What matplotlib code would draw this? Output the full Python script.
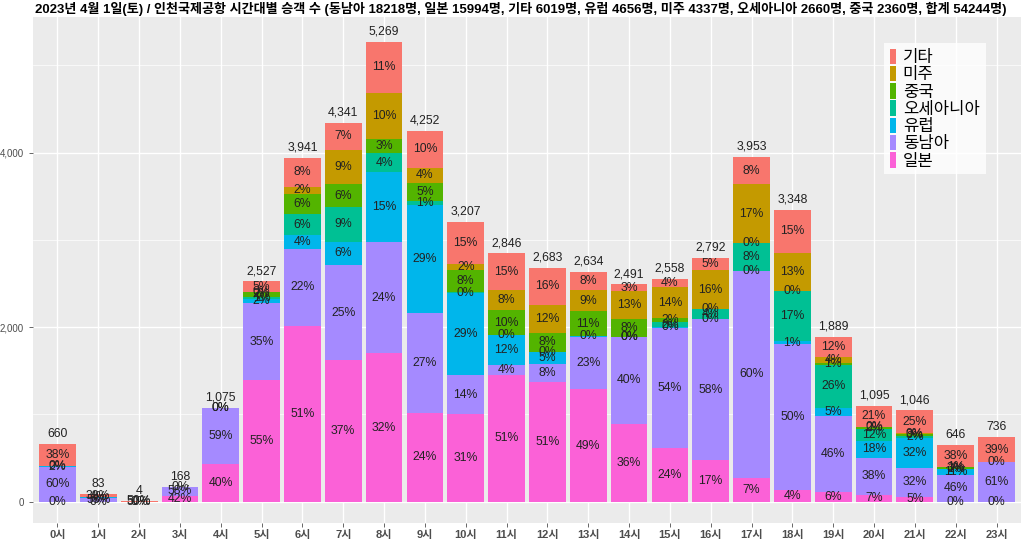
import numpy as np
import matplotlib
matplotlib.use("Agg")
import matplotlib.pyplot as plt
from matplotlib.patches import Patch
from matplotlib.ticker import MultipleLocator, FuncFormatter

plt.rcParams['font.family'] = ['Liberation Sans', 'Noto Sans CJK KR', 'DejaVu Sans']

hours = [f"{h}시" for h in range(24)]
N = None
# series (stack order bottom -> top); None = row absent
japan   = [0, 0, 2, 71, 433, 1390, 2017, 1620, 1700, 1020, 1000, 1451, 1368, 1287, 894, 620, 475, 277, 134, 113, 80, 52, 2, 2]
seasia  = [396, 48, 0, 97, 637, 884, 883, 1090, 1280, 1148, 455, 114, 215, 606, 996, 1375, 1619, 2362, 1674, 869, 420, 337, 299, 449]
europe  = [13, 3, N, N, 0, 51, 158, 270, 800, 1233, 940, 342, 134, 3, 0, 5, 5, 5, 33, 94, 200, 338, 70, N]
oceania = [N, N, N, N, N, 25, 236, 395, 215, 43, 5, 3, 3, N, 3, 60, 106, 316, 569, 491, 135, 21, 5, N]
china   = [N, N, N, N, N, 51, 236, 265, 160, 213, 260, 285, 215, 290, 199, 40, 0, 5, 3, 19, 22, 31, 20, N]
america = [2, N, N, N, N, 0, 79, 395, 530, 170, 65, 228, 322, 237, 324, 358, 447, 672, 435, 76, 3, 5, 5, 1]
other   = [249, 32, 2, 0, 5, 126, 332, 306, 584, 425, 482, 423, 426, 211, 75, 100, 140, 316, 500, 227, 235, 262, 245, 284]

series_names = ['일본', '동남아', '유럽', '오세아니아', '중국', '미주', '기타']
series_vals = [japan, seasia, europe, oceania, china, america, other]
colors = ['#FB61D7', '#A58AFF', '#00B6EB', '#00C094', '#53B400', '#C49A00', '#F8766D']

title = ("2023년 4월 1일(토) / 인천국제공항 시간대별 승객 수 (동남아 18218명, 일본 15994명, 기타 6019명, "
         "유럽 4656명, 미주 4337명, 오세아니아 2660명, 중국 2360명, 합계 54244명)")

fig = plt.figure(figsize=(10.24, 5.48), dpi=100)
ax = fig.add_axes([33/1024, 1-523/548, 988/1024, 506/548])
ax.set_facecolor('#EBEBEB')

x = np.arange(len(hours))
arr = np.array([[0 if v is None else v for v in s] for s in series_vals], dtype=float)
totals = arr.sum(axis=0)

bottom = np.zeros(len(hours))
for name, s, vals, c in zip(series_names, arr, series_vals, colors):
    ax.bar(x, s, 0.9, bottom=bottom, color=c, edgecolor='none', zorder=2)
    for i in range(len(hours)):
        if vals[i] is None:
            continue
        pct = round(s[i] / totals[i] * 100)
        ax.text(x[i], bottom[i] + s[i] / 2, f"{pct}%", ha='center', va='center',
                fontsize=8.8, color='#222222', zorder=3)
    bottom = bottom + s

for i in range(len(hours)):
    ax.annotate(f"{int(totals[i]):,}", (x[i], totals[i]), xytext=(0, 3),
                textcoords='offset points', ha='center', va='bottom',
                fontsize=8.8, color='#222222', zorder=3)

ax.set_xlim(-0.6, 23.6)
ax.set_ylim(-244, 5555)
ax.set_xticks(x)
ax.set_xticklabels(hours, fontsize=8, fontweight='bold', color='#4D4D4D')
ax.yaxis.set_major_locator(MultipleLocator(2000))
ax.yaxis.set_minor_locator(MultipleLocator(1000))
ax.yaxis.set_major_formatter(FuncFormatter(lambda v, p: f"{int(v):,}"))
ax.tick_params(axis='y', labelsize=7, colors='#4D4D4D', length=3, width=0.6)
ax.tick_params(axis='y', which='minor', length=0)
ax.tick_params(axis='x', length=3, width=0.6, colors='#4D4D4D', pad=2)
ax.grid(True, which='major', color='white', linewidth=1.0, zorder=0)
ax.grid(True, which='minor', axis='y', color='white', linewidth=0.5, zorder=0)
ax.set_axisbelow(True)
for sp in ax.spines.values():
    sp.set_visible(False)

t = fig.text(35/1024, 1-9/548, title, ha='left', va='center', fontsize=11,
             fontweight='bold', color='black')
fig.canvas.draw()
w = t.get_window_extent().width
t.set_fontsize(11 * 968 / w)

handles = [Patch(facecolor=c, edgecolor='none') for c in colors[::-1]]
leg = ax.legend(handles, series_names[::-1], loc='upper left',
                bbox_to_anchor=(0.861, 0.949), borderaxespad=0, fontsize=12,
                handlelength=0.4, handleheight=1.05, handletextpad=0.4,
                labelspacing=0.05, borderpad=0.35, frameon=True, fancybox=False)
leg.get_frame().set_facecolor('white')
leg.get_frame().set_edgecolor('none')

fig.savefig('out.png', dpi=100)
